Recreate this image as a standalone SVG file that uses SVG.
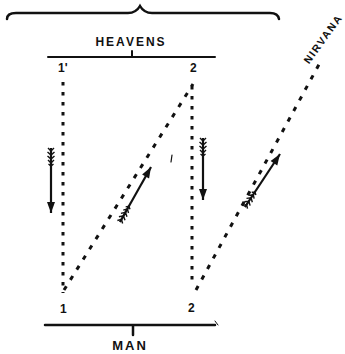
<svg xmlns="http://www.w3.org/2000/svg" width="345" height="354" viewBox="0 0 345 354">
<style>
.ln{stroke:#111;fill:none;stroke-linecap:round}
.dot{stroke:#111;fill:none;stroke-width:3;stroke-dasharray:3.5 6.5}
.dash{stroke:#111;fill:none;stroke-width:3;stroke-dasharray:4.5 7.5}
.arr{stroke:#111;stroke-width:2.2;fill:none;marker-end:url(#head);marker-start:url(#fletch)}
.lbl{font-family:"Liberation Sans",Arial,sans-serif;font-weight:bold;fill:#111}
</style>
<defs>
<marker id="head" markerUnits="userSpaceOnUse" markerWidth="14" markerHeight="10" refX="12" refY="5" orient="auto" viewBox="0 0 14 10">
<path d="M1,1 L12,5 L1,9 Z" fill="#111"/>
</marker>
<marker id="fletch" markerUnits="userSpaceOnUse" markerWidth="22" markerHeight="10" refX="1" refY="5" orient="auto" viewBox="0 0 22 10">
<path d="M1,5 L20,5 M1,2 L4,5 L1,8 M5,1.5 L8,5 L5,8.5 M9,1.5 L12,5 L9,8.5 M13,2 L16,5 L13,8 M17,2.5 L19,5 L17,7.5" stroke="#111" stroke-width="1.4" fill="none"/>
</marker>
</defs>
<rect width="345" height="354" fill="#fff"/>

<g id="brace">
<path class="ln" stroke-width="2.5" d="M7,19 Q7,13 16,13 L128,13 Q136,13 140,6 Q144,13 152,13 L270,13 Q278,13 279,19"/>
</g>

<g id="heavens">
<path class="ln" stroke-width="2" d="M48,57 L215,57 M132,51 L132,57"/>
<text class="lbl" x="131" y="46" font-size="12" text-anchor="middle" letter-spacing="2">HEAVENS</text>
<text class="lbl" x="58" y="72" font-size="12">1'</text>
<text class="lbl" x="190" y="72" font-size="12">2</text>
</g>

<g id="man">
<path class="ln" stroke-width="2.5" d="M45,325 L215,325 M133,325 L133,335"/>
<path class="ln" stroke-width="1" d="M215,321 L218,325"/>
<text class="lbl" x="130" y="350" font-size="13" text-anchor="middle" letter-spacing="2">MAN</text>
<text class="lbl" x="60" y="313" font-size="12">1</text>
<text class="lbl" x="188" y="312" font-size="12">2</text>
</g>

<g id="nirvana">
<text class="lbl" font-size="10.5" text-anchor="middle" letter-spacing="1.6" transform="translate(326,41) rotate(-54)">NIRVANA</text>
</g>

<g id="connectors">
<path class="dot" d="M63,82 L63,293"/>
<path class="dot" d="M192,86 L192,284"/>
<path class="dash" d="M64,290 L193,84"/>
<path class="dash" d="M196,290 L322,59"/>
<path class="arr" d="M51,148 L51,213"/>
<path class="arr" d="M203,138 L203,200"/>
<path class="arr" d="M120,222 L151,167"/>
<path class="arr" d="M245,207 L280,154"/>
<path class="ln" stroke-width="1.2" d="M172,155 L171,162"/>
</g>
</svg>
